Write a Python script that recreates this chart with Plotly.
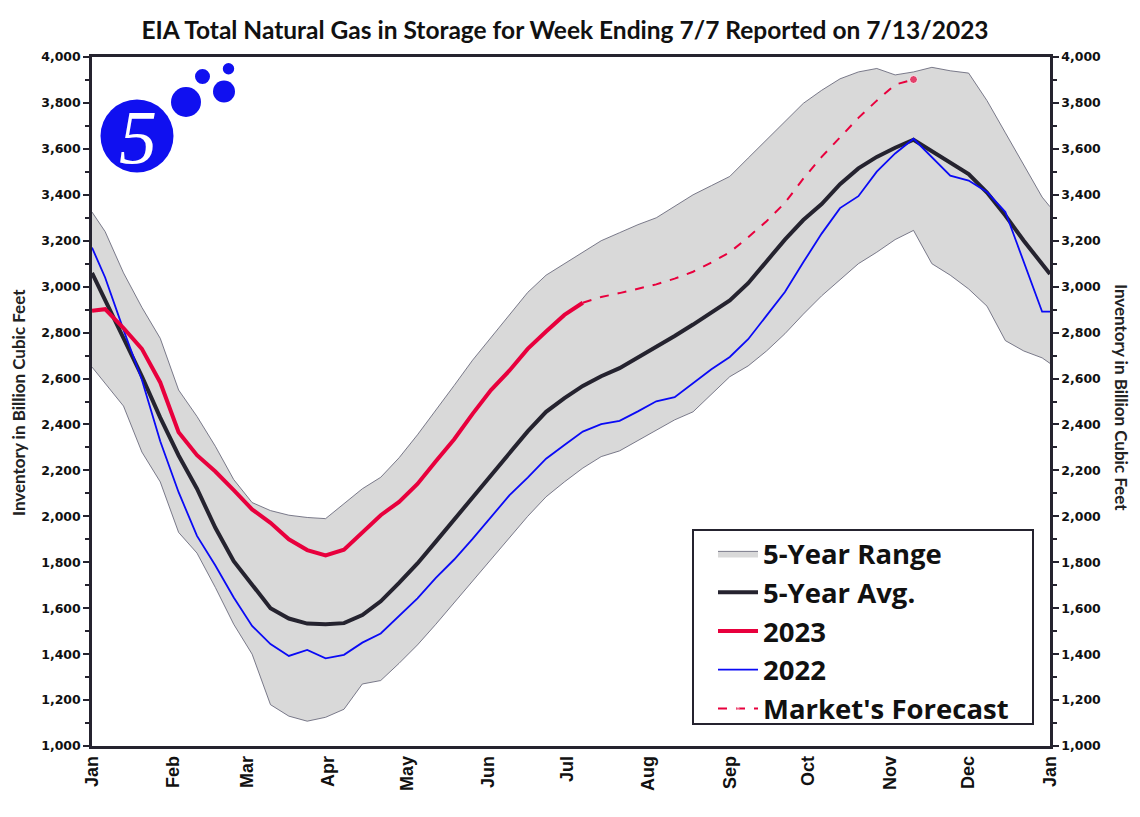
import pandas as pd
import plotly.graph_objects as go

# ---------------- data ----------------
AXIS_START = "2023-01-01"
AXIS_END = "2024-01-01"
WEEKS = [d.strftime("%Y-%m-%d") for d in pd.date_range("2023-01-06", periods=52, freq="7D")]

MONTH_TICKS = ["2023-01-01", "2023-02-01", "2023-03-01", "2023-04-01", "2023-05-01", "2023-06-01",
               "2023-07-01", "2023-08-01", "2023-09-01", "2023-10-01", "2023-11-01", "2023-12-01",
               "2024-01-01"]
MONTH_LABELS = ["Jan", "Feb", "Mar", "Apr", "May", "Jun", "Jul", "Aug", "Sep", "Oct", "Nov", "Dec", "Jan"]

# series spanning the whole axis: [axis start] + 52 weeks + [axis end]
range_upper = [3325, 3240, 3060, 2910, 2775, 2550, 2435, 2305, 2160, 2060, 2025, 2005, 1995, 1990,
               2055, 2120, 2170, 2255, 2355, 2460, 2570, 2680, 2780, 2880, 2975, 3050, 3100, 3150,
               3200, 3235, 3270, 3300, 3350, 3400, 3440, 3480, 3560, 3640, 3720, 3798, 3855, 3905,
               3935, 3950, 3922, 3935, 3955, 3940, 3930, 3810, 3670, 3530, 3390, 3348]
range_lower = [2650, 2580, 2480, 2280, 2150, 1930, 1840, 1690, 1530, 1400, 1180, 1130, 1108, 1125,
               1160, 1270, 1285, 1360, 1440, 1530, 1625, 1720, 1815, 1910, 2000, 2085, 2150, 2210,
               2260, 2285, 2330, 2376, 2420, 2455, 2530, 2608, 2655, 2720, 2795, 2880, 2960, 3030,
               3100, 3150, 3205, 3245, 3100, 3050, 2990, 2915, 2765, 2720, 2690, 2666]
avg_5yr = [3060, 2940, 2780, 2610, 2430, 2265, 2120, 1950, 1805, 1700, 1600, 1555, 1533, 1530,
           1535, 1570, 1630, 1710, 1795, 1890, 1985, 2080, 2178, 2272, 2370, 2455, 2515, 2568,
           2610, 2645, 2690, 2739, 2785, 2835, 2885, 2940, 3015, 3110, 3205, 3290, 3360, 3446,
           3515, 3565, 3605, 3640, 3590, 3537, 3490, 3410, 3310, 3200, 3095, 3055]
y2022 = [3170, 3040, 2812, 2595, 2327, 2105, 1915, 1786, 1647, 1523, 1444, 1392, 1418, 1382,
         1397, 1450, 1490, 1567, 1643, 1732, 1812, 1902, 1999, 2091, 2169, 2251, 2311, 2369,
         2401, 2416, 2457, 2501, 2519, 2579, 2640, 2694, 2771, 2874, 2977, 3106, 3231, 3342,
         3394, 3501, 3580, 3644, 3564, 3483, 3462, 3412, 3325, 3112, 2891, 2891]
# 2023: [axis start] + weeks ending 1/6 .. 7/7
y2023 = [2895, 2902, 2820, 2729, 2583, 2366, 2266, 2195, 2114, 2030, 1972, 1900, 1853, 1830,
         1855, 1930, 2005, 2063, 2141, 2240, 2336, 2446, 2550, 2634, 2729, 2805, 2877, 2930]
# market forecast: weeks ending 7/7 .. 11/10
forecast = [2930, 2955, 2972, 2990, 3010, 3035, 3065, 3105, 3150, 3215, 3285, 3365, 3470,
            3565, 3650, 3735, 3810, 3880, 3902]

x_full = [AXIS_START] + WEEKS + [AXIS_END]
x_2023 = [AXIS_START] + WEEKS[:27]
x_fc = WEEKS[26:45]

# ---------------- styles ----------------
DARK = "#25232f"
RED = "#e8003d"
BLUE = "#0a0af5"
GRAY_FILL = "#d9d9d9"
GRAY_LINE = "#5c5c70"
LOGO = "#1010f0"

fig = go.Figure()

fig.add_trace(go.Scatter(x=x_full, y=range_upper, mode="lines", line=dict(color=GRAY_LINE, width=0.8),
                         showlegend=False, hoverinfo="skip", legendgroup="a"))
fig.add_trace(go.Scatter(x=x_full, y=range_lower, mode="lines", line=dict(color=GRAY_LINE, width=0.8),
                         fill="tonexty", fillcolor=GRAY_FILL, name="5-Year Range",
                         legendgroup="a", legendrank=1))
fig.add_trace(go.Scatter(x=x_full, y=avg_5yr, mode="lines", line=dict(color=DARK, width=4),
                         name="5-Year Avg.", legendgroup="b", legendrank=2))
fig.add_trace(go.Scatter(x=x_full, y=y2022, mode="lines", line=dict(color=BLUE, width=1.8),
                         name="2022", legendgroup="d", legendrank=4))
fig.add_trace(go.Scatter(x=x_2023, y=y2023, mode="lines", line=dict(color=RED, width=4),
                         name="2023", legendgroup="c", legendrank=3))
fig.add_trace(go.Scatter(x=x_fc, y=forecast, mode="lines+markers",
                         line=dict(color=RED, width=2, dash="dash"),
                         marker=dict(size=[0] * (len(forecast) - 1) + [8], color=RED),
                         name="Market's Forecast", legendgroup="e", legendrank=5))
# trace carrying the right-hand axis
fig.add_trace(go.Scatter(x=x_full, y=avg_5yr, yaxis="y2", mode="lines", line=dict(width=0),
                         showlegend=False, hoverinfo="skip", opacity=0))

# ---------------- layout ----------------
L, R, T, B = 92, 1050, 57, 746
W, H = 1140, 817


def px(xp):
    return (xp - L) / (R - L)


def py(yp):
    return (B - yp) / (B - T)


tickfont = dict(family="DejaVu Sans", size=12.5, color="#111111", weight="bold")
yaxis_common = dict(range=[1000, 4000], dtick=200, tickformat=",d", showgrid=False, zeroline=False,
                    showline=True, linecolor=DARK, linewidth=2.5, ticks="outside", ticklen=6,
                    tickwidth=2, tickcolor=DARK, tickfont=tickfont, automargin=False,
                    minor=dict(dtick=100, ticks="outside", ticklen=4, tickwidth=2, tickcolor=DARK))

fig.update_layout(
    width=W, height=H,
    margin=dict(l=L, r=W - R, t=T, b=H - B, autoexpand=False),
    paper_bgcolor="white", plot_bgcolor="rgba(0,0,0,0)",
    title=dict(text="EIA Total Natural Gas in Storage for Week Ending 7/7 Reported on 7/13/2023",
               x=565 / W, xanchor="center", y=1 - 30 / H, yanchor="middle", yref="container",
               xref="container",
               font=dict(family="Lato", size=24.5, color="#111111", weight="bold")),
    xaxis=dict(type="date", range=[AXIS_START, AXIS_END], tickvals=MONTH_TICKS, ticktext=MONTH_LABELS,
               tickangle=-90, showgrid=False, zeroline=False, showline=True, mirror=True,
               linecolor=DARK, linewidth=2.5, ticks="", automargin=False,
               tickfont=dict(family="Liberation Sans", size=18, color="#111111", weight="bold")),
    yaxis=yaxis_common,
    yaxis2=dict(**yaxis_common, overlaying="y", side="right"),
    legend=dict(x=px(713), xanchor="left", y=py(529), yanchor="top",
                bgcolor="rgba(0,0,0,0)", borderwidth=0,
                traceorder="grouped", tracegroupgap=0, itemwidth=40,
                font=dict(family="Open Sans", size=27.5, color="#111111", weight="bold")),
    showlegend=True,
)

# legend frame
fig.add_shape(type="rect", xref="paper", yref="paper", x0=px(693), x1=px(1033), y0=py(724), y1=py(530),
              fillcolor="white", line=dict(color=DARK, width=2), layer="below")

fig.add_annotation(text="Inventory in Billion Cubic Feet", xref="paper", yref="paper",
                   x=px(18), y=py(403), textangle=-90, showarrow=False,
                   xanchor="center", yanchor="middle",
                   font=dict(family="Lato", size=17, color="#222222", weight="bold"))
fig.add_annotation(text="Inventory in Billion Cubic Feet", xref="paper", yref="paper",
                   x=px(1122), y=py(397), textangle=90, showarrow=False,
                   xanchor="center", yanchor="middle",
                   font=dict(family="Lato", size=17, color="#222222", weight="bold"))

# logo: circles (pixel centre, radius)
for cx, cy, r in [(137, 136, 36.5), (186, 102, 15), (202.5, 76.5, 7.5), (224, 91.5, 11), (228.5, 68.7, 5.7)]:
    fig.add_shape(type="circle", xref="paper", yref="paper",
                  x0=px(cx - r), x1=px(cx + r), y0=py(cy + r), y1=py(cy - r),
                  fillcolor=LOGO, line=dict(width=0), layer="below")
fig.add_annotation(text="5", xref="paper", yref="paper", x=px(138), y=py(137), showarrow=False,
                   xanchor="center", yanchor="middle",
                   font=dict(family="Liberation Serif", size=76, color="white", style="italic"))

fig.write_html("out.html", config={"displayModeBar": False},
               post_script="document.body.style.margin='0';")
